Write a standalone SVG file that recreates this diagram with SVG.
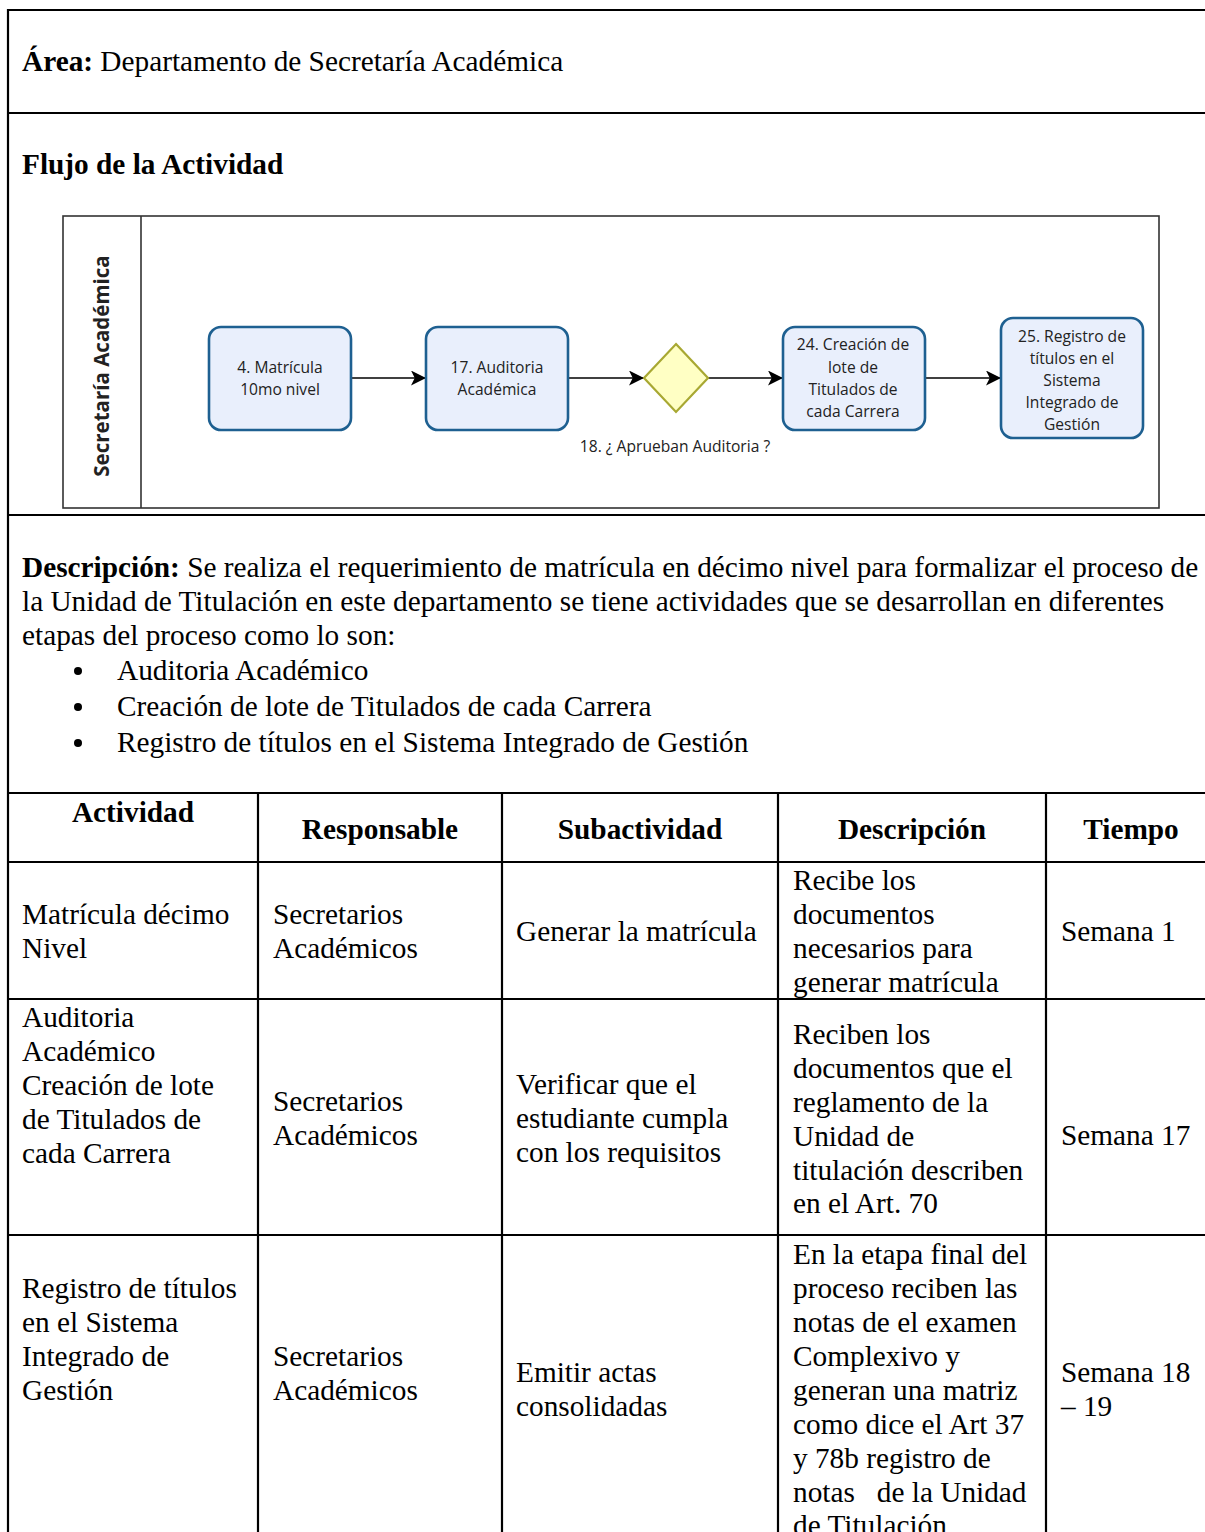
<svg xmlns="http://www.w3.org/2000/svg" width="1205" height="1532" viewBox="0 0 1205 1532">
  <style>
    .doc { font-family: "Liberation Serif", "Times New Roman", serif; font-size: 29.3px; fill: #000; }
    .b { font-weight: bold; }
    .mid { text-anchor: middle; }
    .rule { stroke: #000; stroke-width: 2.2; fill: none; }
    .lane { stroke: #333; stroke-width: 1.6; fill: #fff; }
    .task { fill: #E9EFFC; stroke: #1E6091; stroke-width: 2.6; }
    .gate { fill: #FFFFC4; stroke: #A8A832; stroke-width: 2.2; }
    .lbl { font-family: "Open Sans", "Noto Sans", sans-serif; font-size: 15.6px; fill: #222; text-anchor: middle; }
    .lanelbl { font-family: "Open Sans", "Noto Sans", sans-serif; font-size: 20.5px; font-weight: bold; fill: #222; text-anchor: middle; }
    .flow { stroke: #000; stroke-width: 1.7; fill: none; marker-end: url(#arrow); }
  </style>
  <defs>
    <marker id="arrow" viewBox="0 0 12 12" refX="12" refY="6" markerWidth="15" markerHeight="15" markerUnits="userSpaceOnUse" orient="auto">
      <path d="M0,0 L12,6 L0,12 L3,6 Z" fill="#000"/>
    </marker>
  </defs>

  <rect width="1205" height="1532" fill="#fff"/>

  <!-- page frame and section rules -->
  <g id="frame">
    <path class="rule" d="M1205,10 H8 V1532"/>
    <line class="rule" x1="8" y1="113" x2="1205" y2="113"/>
    <line class="rule" x1="8" y1="515" x2="1205" y2="515" stroke-width="3"/>
    <line class="rule" x1="8" y1="793" x2="1205" y2="793"/>
  </g>

  <!-- header sections -->
  <g id="area">
    <text class="doc" x="22" y="71"><tspan class="b">Área:</tspan> Departamento de Secretaría Académica</text>
  </g>
  <g id="flujo-title">
    <text class="doc b" x="22" y="174">Flujo de la Actividad</text>
  </g>

  <!-- swimlane -->
  <g id="lane">
    <rect class="lane" x="63" y="216" width="1096" height="292"/>
    <line class="lane" x1="141" y1="216" x2="141" y2="508"/>
    <text class="lanelbl" transform="translate(109,366) rotate(-90)">Secretaría Académica</text>
  </g>

  <g id="connectors">
    <line class="flow" x1="351" y1="378" x2="426" y2="378"/>
    <line class="flow" x1="568" y1="378" x2="644" y2="378"/>
    <line class="flow" x1="708" y1="378" x2="783" y2="378"/>
    <line class="flow" x1="925" y1="378" x2="1001" y2="378"/>
  </g>

  <g id="task-4">
    <rect class="task" x="209" y="327" width="142" height="103" rx="12"/>
    <text class="lbl" x="280" y="373">4. Matrícula</text>
    <text class="lbl" x="280" y="395">10mo nivel</text>
  </g>
  <g id="task-17">
    <rect class="task" x="426" y="327" width="142" height="103" rx="12"/>
    <text class="lbl" x="497" y="373">17. Auditoria</text>
    <text class="lbl" x="497" y="395">Académica</text>
  </g>
  <g id="gateway-18">
    <path class="gate" d="M676,344 L708,378 L676,412 L644,378 Z"/>
    <text class="lbl" x="675" y="452">18. ¿ Aprueban Auditoria ?</text>
  </g>
  <g id="task-24">
    <rect class="task" x="783" y="327" width="142" height="103" rx="12"/>
    <text class="lbl" x="853" y="350">24. Creación de</text>
    <text class="lbl" x="853" y="373">lote de</text>
    <text class="lbl" x="853" y="395">Titulados de</text>
    <text class="lbl" x="853" y="417">cada Carrera</text>
  </g>
  <g id="task-25">
    <rect class="task" x="1001" y="318" width="142" height="120" rx="12"/>
    <text class="lbl" x="1072" y="342">25. Registro de</text>
    <text class="lbl" x="1072" y="364">títulos en el</text>
    <text class="lbl" x="1072" y="386">Sistema</text>
    <text class="lbl" x="1072" y="408">Integrado de</text>
    <text class="lbl" x="1072" y="430">Gestión</text>
  </g>

  <!-- description -->
  <g id="descripcion">
    <text class="doc" x="22" y="577"><tspan class="b">Descripción:</tspan> Se realiza el requerimiento de matrícula en décimo nivel para formalizar el proceso de</text>
    <text class="doc" x="22" y="611">la Unidad de Titulación en este departamento se tiene actividades que se desarrollan en diferentes</text>
    <text class="doc" x="22" y="645">etapas del proceso como lo son:</text>
    <circle cx="78" cy="671" r="4"/>
    <circle cx="78" cy="707" r="4"/>
    <circle cx="78" cy="743" r="4"/>
    <text class="doc" x="117" y="680">Auditoria Académico</text>
    <text class="doc" x="117" y="716">Creación de lote de Titulados de cada Carrera</text>
    <text class="doc" x="117" y="752">Registro de títulos en el Sistema Integrado de Gestión</text>
  </g>

  <!-- activity table -->
  <g id="table-grid">
    <line class="rule" x1="8" y1="862" x2="1205" y2="862"/>
    <line class="rule" x1="8" y1="999" x2="1205" y2="999"/>
    <line class="rule" x1="8" y1="1235" x2="1205" y2="1235"/>
    <line class="rule" x1="258" y1="793" x2="258" y2="1532"/>
    <line class="rule" x1="502" y1="793" x2="502" y2="1532"/>
    <line class="rule" x1="778" y1="793" x2="778" y2="1532"/>
    <line class="rule" x1="1046" y1="793" x2="1046" y2="1532"/>
  </g>

  <g id="table-header">
    <text class="doc b mid" x="133" y="822">Actividad</text>
    <text class="doc b mid" x="380" y="839">Responsable</text>
    <text class="doc b mid" x="640" y="839">Subactividad</text>
    <text class="doc b mid" x="912" y="839">Descripción</text>
    <text class="doc b mid" x="1131" y="839">Tiempo</text>
  </g>

  <g id="row-1">
    <text class="doc" x="22" y="924">Matrícula décimo</text>
    <text class="doc" x="22" y="958">Nivel</text>
    <text class="doc" x="273" y="924">Secretarios</text>
    <text class="doc" x="273" y="958">Académicos</text>
    <text class="doc" x="516" y="941">Generar la matrícula</text>
    <text class="doc" x="793" y="890">Recibe los</text>
    <text class="doc" x="793" y="924">documentos</text>
    <text class="doc" x="793" y="958">necesarios para</text>
    <text class="doc" x="793" y="992">generar matrícula</text>
    <text class="doc" x="1061" y="941">Semana 1</text>
  </g>

  <g id="row-2">
    <text class="doc" x="22" y="1027">Auditoria</text>
    <text class="doc" x="22" y="1061">Académico</text>
    <text class="doc" x="22" y="1095">Creación de lote</text>
    <text class="doc" x="22" y="1129">de Titulados de</text>
    <text class="doc" x="22" y="1163">cada Carrera</text>
    <text class="doc" x="273" y="1111">Secretarios</text>
    <text class="doc" x="273" y="1145">Académicos</text>
    <text class="doc" x="516" y="1094">Verificar que el</text>
    <text class="doc" x="516" y="1128">estudiante cumpla</text>
    <text class="doc" x="516" y="1162">con los requisitos</text>
    <text class="doc" x="793" y="1044">Reciben los</text>
    <text class="doc" x="793" y="1078">documentos que el</text>
    <text class="doc" x="793" y="1112">reglamento de la</text>
    <text class="doc" x="793" y="1146">Unidad de</text>
    <text class="doc" x="793" y="1180">titulación describen</text>
    <text class="doc" x="793" y="1213">en el Art. 70</text>
    <text class="doc" x="1061" y="1145">Semana 17</text>
  </g>

  <g id="row-3">
    <text class="doc" x="22" y="1298">Registro de títulos</text>
    <text class="doc" x="22" y="1332">en el Sistema</text>
    <text class="doc" x="22" y="1366">Integrado de</text>
    <text class="doc" x="22" y="1400">Gestión</text>
    <text class="doc" x="273" y="1366">Secretarios</text>
    <text class="doc" x="273" y="1400">Académicos</text>
    <text class="doc" x="516" y="1382">Emitir actas</text>
    <text class="doc" x="516" y="1416">consolidadas</text>
    <text class="doc" x="793" y="1264">En la etapa final del</text>
    <text class="doc" x="793" y="1298">proceso reciben las</text>
    <text class="doc" x="793" y="1332">notas de el examen</text>
    <text class="doc" x="793" y="1366">Complexivo y</text>
    <text class="doc" x="793" y="1400">generan una matriz</text>
    <text class="doc" x="793" y="1434">como dice el Art 37</text>
    <text class="doc" x="793" y="1468">y 78b registro de</text>
    <text class="doc" x="793" y="1502" xml:space="preserve">notas   de la Unidad</text>
    <text class="doc" x="793" y="1535">de Titulación</text>
    <text class="doc" x="1061" y="1382">Semana 18</text>
    <text class="doc" x="1061" y="1416">– 19</text>
  </g>
</svg>
